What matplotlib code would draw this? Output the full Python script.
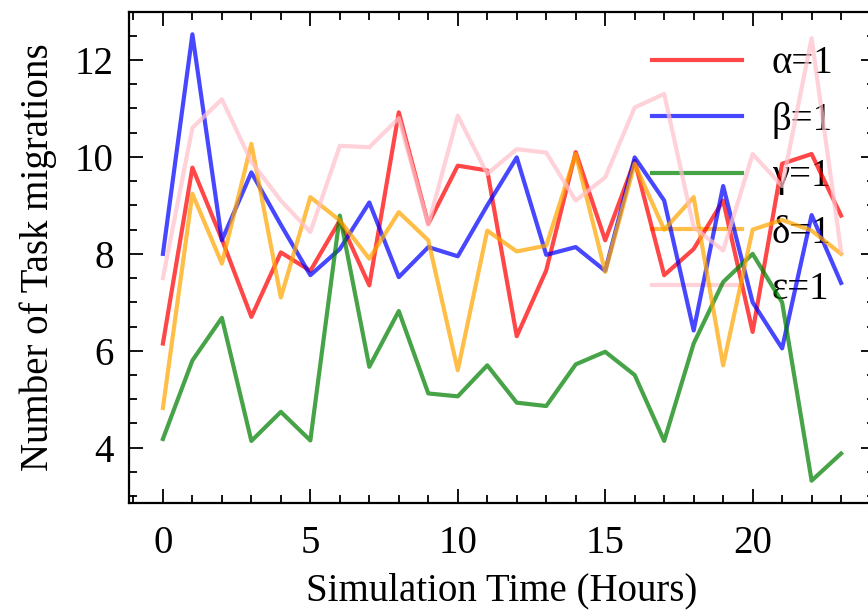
import matplotlib
matplotlib.use("Agg")
import matplotlib.pyplot as plt
from matplotlib.ticker import MultipleLocator

hours = list(range(24))

alpha_vals = [6.15, 9.78, 8.3, 6.7, 8.03, 7.65, 8.69, 7.35, 10.92, 8.62, 9.82, 9.72,
              6.3, 7.66, 10.1, 8.28, 9.92, 7.56, 8.1, 9.1, 6.39, 9.86, 10.06, 8.79]
beta_vals = [8.0, 12.53, 8.28, 9.68, 8.6, 7.56, 8.1, 9.06, 7.52, 8.14, 7.95, 9.0,
             9.99, 7.98, 8.14, 7.65, 9.99, 9.1, 6.42, 9.4, 7.0, 6.05, 8.8, 7.4]
gamma_vals = [4.18, 5.8, 6.68, 4.14, 4.74, 4.15, 8.79, 5.67, 6.82, 5.12, 5.06, 5.7,
              4.93, 4.86, 5.72, 5.98, 5.5, 4.14, 6.15, 7.42, 8.0, 7.0, 3.32, 3.88]
delta_vals = [4.82, 9.24, 7.8, 10.27, 7.1, 9.17, 8.69, 7.9, 8.86, 8.28, 5.6, 8.48,
              8.05, 8.17, 10.06, 7.63, 9.86, 8.5, 9.17, 5.7, 8.5, 8.7, 8.48, 8.0]
eps_vals = [7.5, 10.6, 11.19, 9.9, 9.1, 8.45, 10.23, 10.2, 10.8, 8.6, 10.85, 9.65,
            10.16, 10.09, 9.1, 9.58, 11.02, 11.3, 8.55, 8.07, 10.06, 9.4, 12.45, 8.05]

labels = ["α=1", "β=1", "γ=1", "δ=1", "ε=1"]
colors = ["red", "blue", "green", "orange", "pink"]
series = [alpha_vals, beta_vals, gamma_vals, delta_vals, eps_vals]

plt.rcParams["font.family"] = ["Liberation Serif", "DejaVu Serif"]
plt.rcParams["font.size"] = 28

fig = plt.figure(figsize=(8.68, 6.14), dpi=100)
ax = fig.add_axes([129 / 868, 111 / 614, 746 / 868, 491 / 614])

for vals, lab, col in zip(series, labels, colors):
    ax.plot(hours, vals, color=col, alpha=0.72, linewidth=3.0, label=lab, zorder=3)

ax.set_xlabel("Simulation Time (Hours)", labelpad=7)
ax.set_ylabel("Number of Task migrations", labelpad=13)

ax.xaxis.set_major_locator(MultipleLocator(5))
ax.xaxis.set_minor_locator(MultipleLocator(1))
ax.yaxis.set_major_locator(MultipleLocator(2))
ax.yaxis.set_minor_locator(MultipleLocator(0.5))
ax.tick_params(which="both", direction="in", top=True, right=True, width=1.3)
ax.tick_params(which="major", length=10)
ax.tick_params(which="minor", length=5.5)
ax.tick_params(axis="x", pad=16)
ax.tick_params(axis="y", pad=11)
for sp in ax.spines.values():
    sp.set_linewidth(1.6)

leg = ax.legend(loc="upper right", bbox_to_anchor=(0.965, 0.964), borderaxespad=0,
                frameon=False, handlelength=2.3, handletextpad=0.77, labelspacing=0.5)
leg.set_zorder(1)

fig.savefig("out.png", dpi=100)
